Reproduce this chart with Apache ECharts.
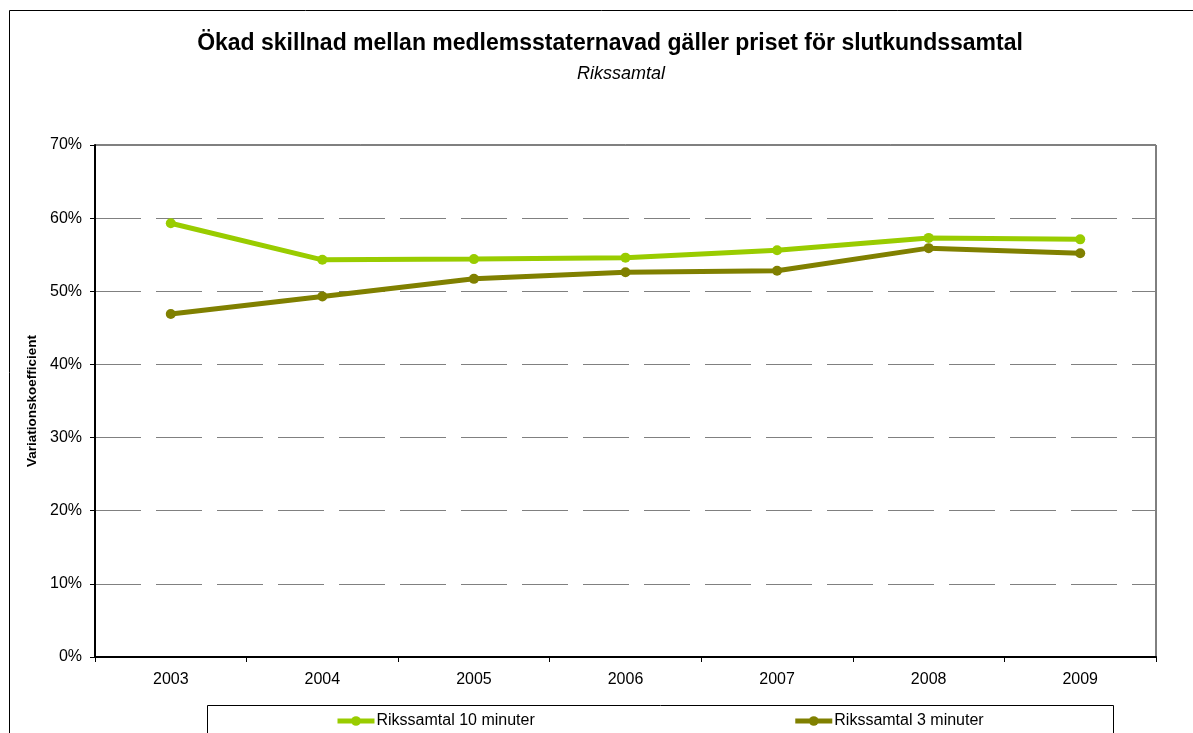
<!DOCTYPE html>
<html><head><meta charset="utf-8">
<script src="https://cdn.jsdelivr.net/npm/echarts@6/dist/echarts.min.js"></script>
<style>html,body{margin:0;padding:0;background:#fff}#c{width:1193px;height:733px}</style>
</head><body><div id="c"></div>
<script>
const categories = ['2003','2004','2005','2006','2007','2008','2009'];
const series10min = [59.3, 54.3, 54.4, 54.6, 55.6, 57.3, 57.1];
const series3min = [46.9, 49.3, 51.7, 52.6, 52.8, 55.9, 55.2];
const yTicks = [0, 10, 20, 30, 40, 50, 60, 70];
const seriesNames = ['Rikssamtal 10 minuter', 'Rikssamtal 3 minuter'];

const chart = echarts.init(document.getElementById('c'));
const F = 'Liberation Sans, Arial, sans-serif';
chart.setOption({
  animation: false,
  title: [
    {text: 'Ökad skillnad mellan medlemsstaternavad gäller priset för slutkundssamtal', left: 610, top: 32, textAlign: 'center', padding: 0,
     textStyle: {fontFamily: F, fontSize: 23, fontWeight: 'bold', color: '#000'}},
    {text: 'Rikssamtal', left: 621, top: 65, textAlign: 'center', padding: 0,
     textStyle: {fontFamily: F, fontSize: 18, fontStyle: 'italic', fontWeight: 'normal', color: '#000'}}
  ],
  graphic: [
    {type: 'rect', shape: {x: 9.5, y: 10.5, width: 1300, height: 900}, style: {fill: 'none', stroke: '#000', lineWidth: 1}, z: -1},
    {type: 'rect', shape: {x: 207.5, y: 705.5, width: 906, height: 60}, style: {fill: '#fff', stroke: '#000', lineWidth: 1}, z: 0}
  ],
  legend: {
    data: seriesNames, left: 335, top: 713, padding: 0, itemWidth: 37, itemHeight: 12, itemGap: 258,
    lineStyle: {width: 5},
    textStyle: {fontFamily: F, fontSize: 16, color: '#000', padding: [0,0,0,-3]}, z: 5
  },
  grid: {left: 95, right: 37, top: 145, bottom: 76, show: true, borderColor: '#000', borderWidth: 1},
  xAxis: {
    type: 'category', data: categories, boundaryGap: true,
    axisLine: {lineStyle: {color: '#000', width: 2}},
    axisTick: {show: true, length: 5, inside: false, lineStyle: {color: '#000'}},
    axisLabel: {fontFamily: F, fontSize: 16, color: '#000', margin: 15},
    splitLine: {show: false}
  },
  yAxis: {
    type: 'value', min: 0, max: 70, interval: 10,
    name: 'Variationskoefficient', nameLocation: 'middle', nameGap: 55,
    nameTextStyle: {fontFamily: F, fontSize: 13.5, fontWeight: 'bold', color: '#000'},
    axisLine: {show: true, lineStyle: {color: '#000', width: 2}},
    axisTick: {show: true, length: 5, lineStyle: {color: '#000'}},
    axisLabel: {fontFamily: F, fontSize: 16, color: '#000', margin: 13,
      formatter: v => yTicks.includes(v) ? v + '%' : ''},
    splitLine: {show: true, lineStyle: {color: '#808080', width: 1, type: [46, 15]}}
  },
  series: [
    {name: seriesNames[0], type: 'line', data: series10min, symbol: 'circle', symbolSize: 10,
     itemStyle: {color: '#99CC00'}, lineStyle: {color: '#99CC00', width: 5}},
    {name: seriesNames[1], type: 'line', data: series3min, symbol: 'circle', symbolSize: 10,
     itemStyle: {color: '#808000'}, lineStyle: {color: '#808000', width: 5}}
  ]
});
</script></body></html>
